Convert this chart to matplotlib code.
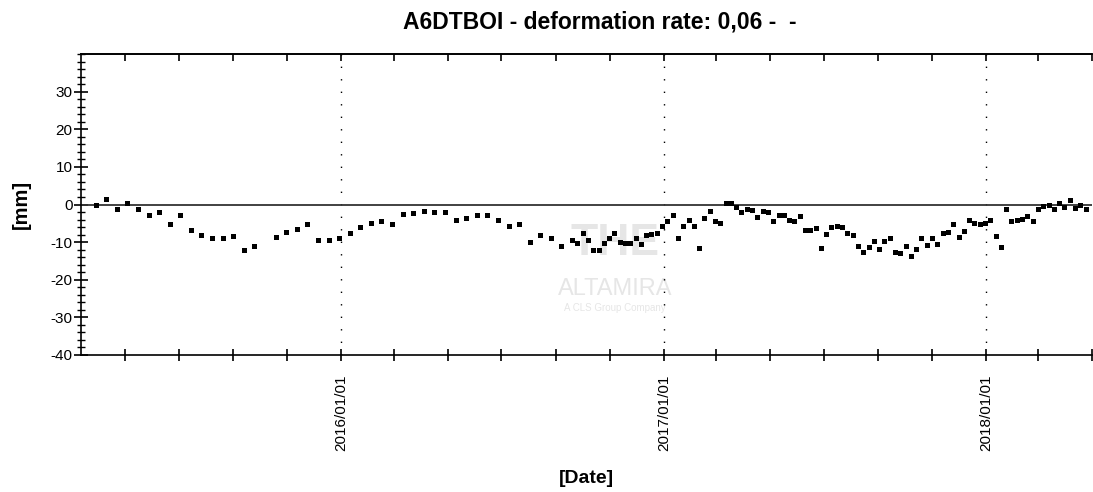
import pandas as pd
import matplotlib
matplotlib.use("Agg")
import matplotlib.pyplot as plt
import matplotlib.dates as mdates
from matplotlib.ticker import MultipleLocator

plt.rcParams["font.family"] = ["Liberation Sans", "DejaVu Sans"]
plt.rcParams["axes.unicode_minus"] = False

# ---- DATA ----
# 12-day acquisitions (2015-03 .. 2016-09)
dates_a = ["2015-03-29", "2015-04-10", "2015-04-22", "2015-05-04", "2015-05-16",
           "2015-05-28", "2015-06-09", "2015-06-21", "2015-07-03", "2015-07-15",
           "2015-07-27", "2015-08-08", "2015-08-20", "2015-09-01", "2015-09-13",
           "2015-09-25", "2015-10-19", "2015-10-31", "2015-11-12", "2015-11-24",
           "2015-12-06", "2015-12-18", "2015-12-30", "2016-01-11", "2016-01-23",
           "2016-02-04", "2016-02-16", "2016-02-28", "2016-03-11", "2016-03-23",
           "2016-04-04", "2016-04-16", "2016-04-28", "2016-05-10", "2016-05-22",
           "2016-06-03", "2016-06-15", "2016-06-27", "2016-07-09", "2016-07-21",
           "2016-08-02", "2016-08-14", "2016-08-26", "2016-09-07"]
mm_a = [0.0, 1.5, -1.3, 0.3, -1.3,
        -2.9, -2.1, -5.3, -2.7, -6.8,
        -8.1, -8.9, -8.8, -8.4, -12.2,
        -10.9, -8.6, -7.3, -6.5, -5.3,
        -9.4, -9.4, -8.9, -7.7, -6.0,
        -4.9, -4.5, -5.3, -2.5, -2.3,
        -1.6, -2.1, -2.1, -4.0, -3.7,
        -2.8, -2.8, -4.0, -5.6, -5.1,
        -10.0, -8.0, -8.9, -11.0]

# 6-day acquisitions (2016-09 .. 2018-04)
dates_b = ["2016-09-19", "2016-09-25", "2016-10-01", "2016-10-07", "2016-10-13",
           "2016-10-19", "2016-10-25", "2016-10-31", "2016-11-06", "2016-11-12",
           "2016-11-18", "2016-11-24", "2016-11-30", "2016-12-06", "2016-12-12",
           "2016-12-18", "2016-12-24", "2016-12-30", "2017-01-05", "2017-01-11",
           "2017-01-17", "2017-01-23", "2017-01-29", "2017-02-04", "2017-02-10",
           "2017-02-16", "2017-02-22", "2017-02-28", "2017-03-06", "2017-03-12",
           "2017-03-18", "2017-03-24", "2017-03-30", "2017-04-05", "2017-04-11",
           "2017-04-17", "2017-04-23", "2017-04-29", "2017-05-05", "2017-05-11",
           "2017-05-17", "2017-05-23", "2017-05-29", "2017-06-04", "2017-06-10",
           "2017-06-16", "2017-06-22", "2017-06-28", "2017-07-04", "2017-07-10",
           "2017-07-16", "2017-07-22", "2017-07-28", "2017-08-03", "2017-08-09",
           "2017-08-15", "2017-08-21", "2017-08-27", "2017-09-02", "2017-09-08",
           "2017-09-14", "2017-09-20", "2017-09-26", "2017-10-02", "2017-10-08",
           "2017-10-14", "2017-10-20", "2017-10-26", "2017-11-01", "2017-11-07",
           "2017-11-13", "2017-11-19", "2017-11-25", "2017-12-01", "2017-12-07",
           "2017-12-13", "2017-12-19", "2017-12-25", "2017-12-31", "2018-01-06",
           "2018-01-12", "2018-01-18", "2018-01-24", "2018-01-30", "2018-02-05",
           "2018-02-11", "2018-02-17", "2018-02-23", "2018-03-01", "2018-03-07",
           "2018-03-13", "2018-03-19", "2018-03-25", "2018-03-31", "2018-04-06",
           "2018-04-12", "2018-04-18", "2018-04-24"]
mm_b = [-9.4, -10.2, -7.5, -9.4, -12.2,
        -12.2, -10.3, -8.8, -7.5, -9.9,
        -10.1, -10.1, -8.9, -10.5, -8.2,
        -7.8, -7.5, -5.6, -4.5, -2.9,
        -8.9, -5.6, -4.0, -5.6, -11.6,
        -3.5, -1.7, -4.3, -4.9, 0.3,
        0.5, -0.6, -2.1, -1.2, -1.5,
        -3.2, -1.6, -2.0, -4.5, -2.7,
        -2.7, -4.0, -4.3, -3.1, -6.9,
        -6.8, -6.3, -11.5, -7.8, -6.0,
        -5.6, -6.1, -7.5, -8.0, -11.0,
        -12.5, -11.3, -9.8, -11.8, -9.6,
        -8.9, -12.5, -12.9, -11.0, -13.8,
        -11.8, -8.9, -10.8, -8.9, -10.5,
        -7.5, -7.4, -5.3, -8.6, -7.1,
        -4.1, -4.9, -5.1, -4.8, -4.0,
        -8.4, -11.3, -1.3, -4.3, -4.1,
        -3.9, -3.1, -4.4, -1.2, -0.5,
        0.0, -1.3, 0.3, -0.7, 1.1,
        -0.9, 0.0, -1.3]

title = "A6DTBOI - deformation rate: 0,06 -  -"

df = pd.DataFrame({"date": pd.to_datetime(dates_a + dates_b), "mm": mm_a + mm_b})

# ---- PLOT ----
fig = plt.figure(figsize=(10.93, 4.92), dpi=100)
ax = fig.add_axes([81 / 1093, 1 - 355 / 492, 1011 / 1093, 301 / 492])

# watermark
wm = "#e6e6e6"
ax.text(0.528, 0.37, "THE", transform=ax.transAxes, ha="center", va="center",
        fontsize=32, fontweight="bold", color=wm, zorder=0)
ax.text(0.528, 0.22, "ALTAMIRA", transform=ax.transAxes, ha="center", va="center",
        fontsize=17, color=wm, zorder=0)
ax.text(0.528, 0.155, "A CLS Group Company", transform=ax.transAxes, ha="center",
        va="center", fontsize=7, color=wm, zorder=0)

ax.axhline(0, color="#333333", lw=1.3, zorder=2)
ax.plot(df["date"], df["mm"], "s", color="black", ms=3.6, mew=0, zorder=3)

ax.set_ylim(-40, 40)
ax.set_xlim(pd.Timestamp("2015-03-12 12:00"), pd.Timestamp("2018-05-01 06:00"))

ax.yaxis.set_minor_locator(MultipleLocator(2))
ax.set_yticks([-40, -30, -20, -10, 0, 10, 20, 30])
ax.tick_params(axis="y", which="major", direction="inout", length=10, width=1.2,
               labelsize=11, pad=1)
ax.tick_params(axis="y", which="minor", direction="inout", length=6, width=1)

ax.xaxis.set_major_locator(mdates.YearLocator())
ax.xaxis.set_major_formatter(mdates.DateFormatter("%Y/%m/%d"))
ax.xaxis.set_minor_locator(mdates.MonthLocator(bymonth=[3, 5, 7, 9, 11]))
ax.tick_params(axis="x", which="both", direction="inout", length=8, width=1.2,
               labelsize=11, labelrotation=90, pad=10)
ax.grid(axis="x", which="major", color="black", linestyle=(0, (1, 8)), lw=1)

top = ax.secondary_xaxis("top")
top.xaxis.set_major_locator(mdates.MonthLocator(bymonth=[1, 3, 5, 7, 9, 11]))
top.tick_params(direction="in", length=5, width=1.2, labeltop=False)
top.spines["top"].set_linewidth(1.2)

for side in ["left", "bottom", "top"]:
    ax.spines[side].set_linewidth(1.2)
ax.spines["right"].set_visible(False)

ax.set_ylabel("[mm]", fontsize=14.5, fontweight="bold", labelpad=14)
ax.set_xlabel("[Date]", fontsize=14, fontweight="bold", labelpad=14)
fig.text(0.549, 1 - 22 / 492, title, ha="center", va="center",
         fontsize=16.5, fontweight="bold")

plt.savefig("out.png", dpi=100)
